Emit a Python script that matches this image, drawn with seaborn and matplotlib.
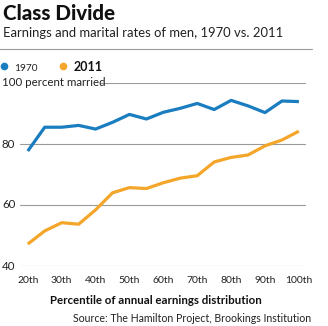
import matplotlib
matplotlib.use("Agg")
import matplotlib.pyplot as plt
import matplotlib.transforms as mtransforms
from matplotlib.lines import Line2D
import seaborn as sns
import pandas as pd

percentiles = [20, 25, 30, 35, 40, 45, 50, 55, 60, 65, 70, 75, 80, 85, 90, 95, 100]
married_1970 = [77.7, 85.5, 85.5, 86.1, 84.9, 87.1, 89.7, 88.2, 90.4, 91.7, 93.3, 91.3, 94.3, 92.5, 90.3, 94.1, 93.9]
married_2011 = [47.2, 51.5, 54.2, 53.7, 58.4, 64.0, 65.7, 65.4, 67.3, 68.8, 69.6, 74.1, 75.6, 76.4, 79.4, 81.3, 84.2]
series_names = ["1970", "2011"]
x_ticks = [20, 30, 40, 50, 60, 70, 80, 90, 100]
x_tick_labels = ["20th", "30th", "40th", "50th", "60th", "70th", "80th", "90th", "100th"]
y_ticks = [40, 60, 80, 100]
y_tick_labels = ["40", "60", "80", "100 percent married"]

df = pd.DataFrame({
    "percentile": percentiles * 2,
    "married": married_1970 + married_2011,
    "year": [series_names[0]] * len(percentiles) + [series_names[1]] * len(percentiles),
})

BLUE = "#1a7dc0"
ORANGE = "#f4a62a"
GRID = "#9a9a9a"
TEXT = "#222222"

sns.set_theme(style="white")
plt.rcParams["font.family"] = ["Lato", "DejaVu Sans"]

W, H = 328, 326
fig = plt.figure(figsize=(W / 100, H / 100), dpi=100)
fig.patch.set_facecolor("white")

ax_left, ax_right = 20, 306
ax_top, ax_bottom = 83, 266
ax = fig.add_axes([ax_left / W, 1 - ax_bottom / H, (ax_right - ax_left) / W, (ax_bottom - ax_top) / H])
ax.set_facecolor("white")

# gridlines
for v in y_ticks:
    if v == 100:
        ax.axhline(v, xmin=(100 - ax_left) / (ax_right - ax_left), xmax=1, color=GRID, lw=0.8, zorder=0)
    else:
        ax.axhline(v, color=GRID, lw=0.8, zorder=0)

sns.lineplot(data=df, x="percentile", y="married", hue="year",
             palette={"1970": BLUE, "2011": ORANGE}, linewidth=2.3,
             legend=False, ax=ax, solid_capstyle="butt", solid_joinstyle="round")

ax.set_xlim(17.7, 102.1)
ax.set_ylim(40, 100)
for s in ax.spines.values():
    s.set_visible(False)

ax.set_xticks(x_ticks, labels=x_tick_labels)
ax.set_yticks(y_ticks, labels=[""] * len(y_ticks))
ax.tick_params(axis="both", length=0, labelsize=7.5, colors=TEXT)
ax.tick_params(axis="x", pad=7)

# y tick labels, left aligned at the figure edge
ytrans = mtransforms.blended_transform_factory(fig.transFigure, ax.transData)
for v, lab in zip(y_ticks, y_tick_labels):
    ax.text(2 / W, v, lab, transform=ytrans, ha="left", va="center",
            fontsize=8.3, color=TEXT, clip_on=False)

ax.set_ylabel("")
ax.set_xlabel("Percentile of annual earnings distribution", fontsize=8.3, fontweight="bold", color="#111111")
ax.xaxis.set_label_coords((155.5 - ax_left) / (ax_right - ax_left), -(300 - ax_bottom) / (ax_bottom - ax_top))
ax.xaxis.label.set_va("center")

# titles
fig.text(3 / W, 1 - 14 / H, "Class Divide", fontsize=14.8, fontweight="black", color="#111111", va="center", ha="left")
fig.text(3 / W, 1 - 33 / H, "Earnings and marital rates of men, 1970 vs. 2011", fontsize=9.4, color=TEXT, va="center", ha="left")
fig.add_artist(Line2D([0, 312 / W], [1 - 49 / H, 1 - 49 / H], color=GRID, lw=0.8))

# legend
handles = [Line2D([], [], marker="o", ls="", color=BLUE, markersize=4.5),
           Line2D([], [], marker="o", ls="", color=ORANGE, markersize=4.5)]
leg = fig.legend(handles, series_names, loc="center left", bbox_to_anchor=(-4 / W, 1 - 67 / H),
                 ncol=2, frameon=False, handletextpad=0.2, columnspacing=1.15, handlelength=1.0,
                 borderaxespad=0, borderpad=0)
leg.get_texts()[0].set_fontsize(7.3)
leg.get_texts()[0].set_color(TEXT)
leg.get_texts()[1].set_fontsize(9)
leg.get_texts()[1].set_fontweight("bold")
leg.get_texts()[1].set_color("#111111")

fig.text(311 / W, 1 - 318 / H, "Source: The Hamilton Project, Brookings Institution", fontsize=7.6, color=TEXT,
         ha="right", va="center")

fig.savefig("out.png", dpi=100, facecolor="white")
